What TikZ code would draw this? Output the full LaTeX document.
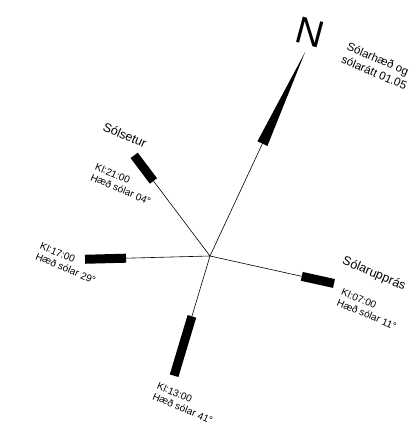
\documentclass[tikz,border=0pt]{standalone}
\usepackage{fontspec}
\setmainfont{Liberation Sans}
\begin{document}
\begin{tikzpicture}[x=1pt,y=1pt,
    ray/.style={line width=0.6pt},
    sunbar/.style={line width=9pt},
    heading/.style={rotate=-23,inner sep=0pt,font=\fontsize{12.5}{14}\selectfont},
    info/.style={rotate=-23,inner sep=0pt,align=left,font=\fontsize{10}{11.5}\selectfont}]
    \useasboundingbox (-210,-177) rectangle (199,256);
    \coordinate (c) at (0,0);
    \coordinate (nbase) at (65:124);
    \coordinate (ntip) at (65:225);
    \draw[ray] (c) -- (nbase);
    \fill (ntip) -- ([shift={(155:5.5)}]nbase) -- ([shift={(-25:5.5)}]nbase) -- cycle;
    \foreach \nm/\ang/\rin/\rout in {set/127/94/126, kv/181.5/84/125, upp/-12.5/94/127, hd/-106.7/63/125}{
        \coordinate (\nm-in) at (\ang:\rin);
        \coordinate (\nm-out) at (\ang:\rout);
        \draw[ray] (c) -- (\nm-in);
        \draw[sunbar] (\nm-in) -- (\nm-out);
    }
    \node[rotate=-15,inner sep=0pt,font=\fontsize{38}{38}\selectfont] (north) at (100,224) {N};
    \node[info,font=\fontsize{11.5}{14}\selectfont] (title) at (167,190) {Sólarhæð og\\sólarátt 01.05};
    \node[heading] (setlbl) at (-85,121) {Sólsetur};
    \node[info] (setinfo) at (-87,72) {Kl:21:00\\Hæð sólar 04°};
    \node[info] (kvinfo) at (-142,-7) {Kl:17:00\\Hæð sólar 29°};
    \node[heading] (upplbl) at (164,-18) {Sólarupprás};
    \node[info] (uppinfo) at (159,-53) {Kl:07:00\\Hæð sólar 11°};
    \node[info] (hdinfo) at (-25,-147) {Kl:13:00\\Hæð sólar 41°};
\end{tikzpicture}
\end{document}
